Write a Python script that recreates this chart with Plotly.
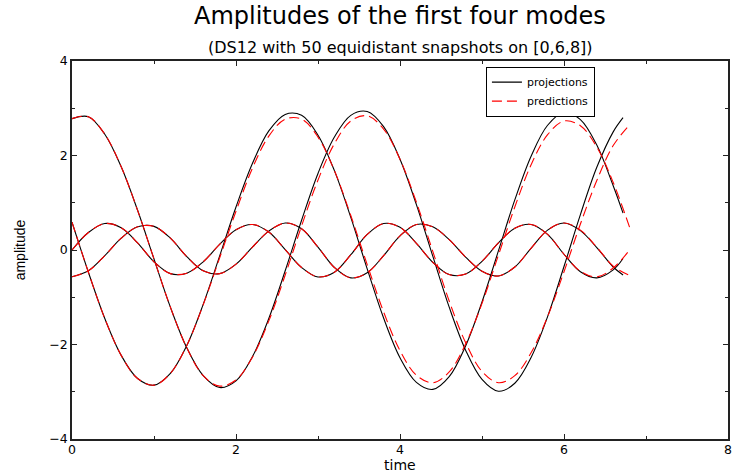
import plotly.graph_objects as go

# time grids
t_proj = [0.0, 0.2, 0.4, 0.6, 0.8, 1.0, 1.2, 1.4, 1.6, 1.8, 2.0, 2.2, 2.4, 2.6, 2.8, 3.0, 3.2, 3.4,
          3.6, 3.8, 4.0, 4.2, 4.4, 4.6, 4.8, 5.0, 5.2, 5.4, 5.6, 5.8, 6.0, 6.2, 6.4, 6.6, 6.72]
t_pred = [0.0, 0.2, 0.4, 0.6, 0.8, 1.0, 1.2, 1.4, 1.6, 1.8, 2.0, 2.2, 2.4, 2.6, 2.8, 3.0, 3.2, 3.4,
          3.6, 3.8, 4.0, 4.2, 4.4, 4.6, 4.8, 5.0, 5.2, 5.4, 5.6, 5.8, 6.0, 6.2, 6.4, 6.6, 6.8]

# projections (black, solid)
proj_mode1 = [2.78, 2.82, 2.45, 1.76, 0.84, -0.19, -1.21, -2.07, -2.66, -2.91, -2.77, -2.26, -1.45,
              -0.44, 0.63, 1.62, 2.39, 2.85, 2.93, 2.61, 1.92, 0.96, -0.13, -1.21, -2.12, -2.74,
              -2.99, -2.82, -2.27, -1.41, -0.35, 0.75, 1.75, 2.50, 2.80]
proj_mode2 = [0.59, -0.47, -1.45, -2.23, -2.72, -2.86, -2.61, -2.02, -1.15, -0.13, 0.91, 1.83, 2.52,
              2.87, 2.85, 2.43, 1.68, 0.69, -0.40, -1.44, -2.28, -2.80, -2.95, -2.68, -2.03, -1.10,
              -0.02, 1.06, 1.99, 2.64, 2.91, 2.76, 2.22, 1.36, 0.78]
proj_mode3 = [0.00, 0.37, 0.56, 0.47, 0.15, -0.25, -0.50, -0.49, -0.25, 0.12, 0.43, 0.54, 0.38,
              0.01, -0.37, -0.57, -0.47, -0.10, 0.33, 0.56, 0.48, 0.14, -0.26, -0.52, -0.51, -0.24,
              0.15, 0.46, 0.54, 0.33, -0.09, -0.46, -0.59, -0.42, -0.18]
proj_mode4 = [-0.565, -0.44, -0.12, 0.25, 0.49, 0.50, 0.25, -0.14, -0.44, -0.50, -0.30, 0.06, 0.40,
              0.57, 0.45, 0.06, -0.37, -0.59, -0.48, -0.12, 0.30, 0.54, 0.49, 0.22, -0.15, -0.45,
              -0.55, -0.36, 0.04, 0.42, 0.57, 0.41, 0.05, -0.36, -0.53]

# predictions (red, dashed)
pred_mode1 = [2.78, 2.82, 2.45, 1.76, 0.84, -0.19, -1.21, -2.07, -2.66, -2.88, -2.75, -2.27, -1.50,
              -0.53, 0.51, 1.48, 2.25, 2.73, 2.84, 2.56, 1.92, 1.01, -0.03, -1.08, -1.96, -2.57,
              -2.81, -2.66, -2.17, -1.41, -0.46, 0.55, 1.47, 2.21, 2.65]
pred_mode2 = [0.59, -0.47, -1.45, -2.23, -2.72, -2.86, -2.61, -2.02, -1.16, -0.17, 0.82, 1.73, 2.41,
              2.77, 2.77, 2.39, 1.68, 0.73, -0.31, -1.31, -2.13, -2.65, -2.81, -2.58, -1.99, -1.13,
              -0.11, 0.91, 1.81, 2.44, 2.73, 2.63, 2.18, 1.43, 0.48]
pred_mode3 = [0.00, 0.37, 0.56, 0.47, 0.15, -0.25, -0.50, -0.49, -0.25, 0.12, 0.43, 0.54, 0.38,
              0.01, -0.37, -0.57, -0.47, -0.10, 0.33, 0.56, 0.48, 0.14, -0.26, -0.52, -0.51, -0.24,
              0.15, 0.46, 0.54, 0.33, -0.09, -0.45, -0.57, -0.38, 0.00]
pred_mode4 = [-0.565, -0.44, -0.12, 0.25, 0.49, 0.50, 0.25, -0.14, -0.44, -0.50, -0.30, 0.06, 0.40,
              0.57, 0.45, 0.06, -0.37, -0.59, -0.48, -0.12, 0.30, 0.54, 0.49, 0.22, -0.15, -0.45,
              -0.55, -0.36, 0.04, 0.42, 0.57, 0.42, 0.06, -0.34, -0.54]

x_ticks = [0, 2, 4, 6, 8]
y_ticks = [-4, -2, 0, 2, 4]

title_text = "Amplitudes of the first four modes"
subtitle_text = "(DS12 with 50 equidistant snapshots on [0,6,8])"
x_label = "time"
y_label = "amplitude"

fig = go.Figure()

proj = [proj_mode1, proj_mode2, proj_mode3, proj_mode4]
pred = [pred_mode1, pred_mode2, pred_mode3, pred_mode4]

for i, ys in enumerate(proj):
    fig.add_trace(go.Scatter(
        x=t_proj, y=ys, mode="lines", name="projections",
        showlegend=(i == 0),
        line=dict(color="black", width=1.1, shape="spline", smoothing=1.0)))
for i, ys in enumerate(pred):
    fig.add_trace(go.Scatter(
        x=t_pred, y=ys, mode="lines", name="predictions",
        showlegend=(i == 0),
        line=dict(color="#ff0000", width=1.1, dash="10px,5px", shape="spline", smoothing=1.0)))

axis_common = dict(
    showgrid=False, zeroline=False, showline=True, linecolor="#222", linewidth=1.5,
    mirror="ticks", ticks="inside", ticklen=5, tickcolor="#222", tickwidth=1,
    tickfont=dict(family="DejaVu Sans", size=12.5, color="black"),
    automargin=False,
)

fig.update_layout(
    width=734, height=475,
    margin=dict(l=72, r=6, t=61, b=36, autoexpand=False),
    paper_bgcolor="white", plot_bgcolor="white",
    showlegend=True,
    legend=dict(x=0.631, y=0.985, xanchor="left", yanchor="top",
                bordercolor="black", borderwidth=1, bgcolor="white",
                font=dict(family="DejaVu Sans", size=11, color="black"),
                tracegroupgap=0, itemwidth=30),
    xaxis=dict(range=[0, 8], tickvals=x_ticks, ticklabelstandoff=-2,
               minor=dict(dtick=1, ticks="inside", ticklen=3, tickcolor="#222"),
               **axis_common),
    yaxis=dict(range=[-4, 4], tickvals=y_ticks,
               minor=dict(dtick=1, ticks="inside", ticklen=3, tickcolor="#222"),
               title=dict(text=y_label, font=dict(family="Liberation Sans", size=14, color="black"),
                          standoff=20),
               **axis_common),
    annotations=[
        dict(text=title_text, xref="paper", yref="paper", x=0.5, y=1, yshift=45,
             xanchor="center", yanchor="middle", showarrow=False,
             font=dict(family="DejaVu Sans", size=24, color="black")),
        dict(text=subtitle_text, xref="paper", yref="paper", x=0.5, y=1, yshift=14,
             xanchor="center", yanchor="middle", showarrow=False,
             font=dict(family="DejaVu Sans", size=16, color="black")),
        dict(text=x_label, xref="paper", yref="paper", x=0.5, y=0, yshift=-36,
             xanchor="center", yanchor="bottom", showarrow=False,
             font=dict(family="DejaVu Sans", size=14, color="black")),
    ],
)

fig.write_html("out.html", config={"displayModeBar": False},
               post_script="document.body.style.margin='0';")
